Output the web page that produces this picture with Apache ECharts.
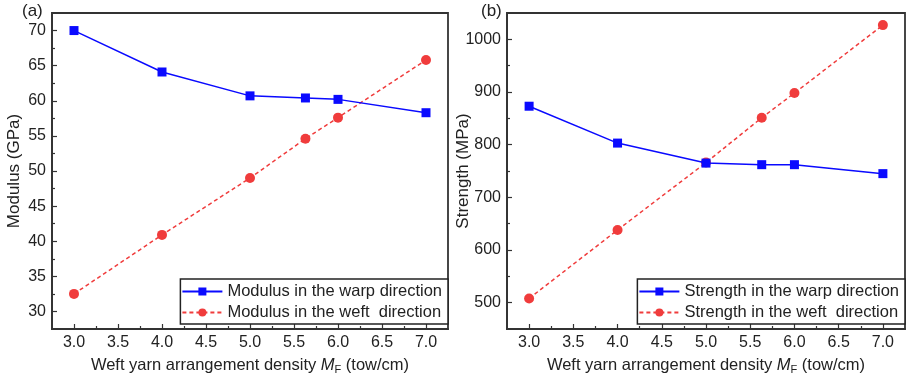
<!DOCTYPE html>
<html>
<head>
<meta charset="utf-8">
<script src="https://cdn.jsdelivr.net/npm/echarts@6/dist/echarts.min.js"></script>
<style>
html,body{margin:0;padding:0;background:#fff;}
#c{width:906px;height:380px;}
</style>
</head>
<body>
<div id="c"></div>
<script>
// ---- data ----
const xValues = [3.0, 4.0, 5.0, 5.63, 6.0, 7.0];
const modulusWarp = [70.0, 64.1, 60.7, 60.4, 60.2, 58.3];
const modulusWeft = [32.5, 40.9, 49.0, 54.6, 57.6, 65.8];
const strengthWarp = [873, 803, 765, 762, 762, 745];
const strengthWeft = [508, 638, 766, 851, 898, 1027];
const xTickLabels = [3.0, 3.5, 4.0, 4.5, 5.0, 5.5, 6.0, 6.5, 7.0];
const xMinorTicks = [3.25, 3.75, 4.25, 4.75, 5.25, 5.75, 6.25, 6.75];
const modulusTicks = [30, 35, 40, 45, 50, 55, 60, 65, 70];
const modulusMinor = [32.5, 37.5, 42.5, 47.5, 52.5, 57.5, 62.5, 67.5];
const strengthTicks = [500, 600, 700, 800, 900, 1000];
const strengthMinor = [550, 650, 750, 850, 950];
const legendNames = ['Modulus in the warp direction', 'Modulus in the weft  direction',
                     'Strength in the warp direction', 'Strength in the weft  direction'];

const FONT = "'Liberation Sans', Arial, sans-serif";
const AX = '#333';
const BLUE = '#0a0aff';
const RED = '#f03c3c';

function pairs(xs, ys){ return xs.map((x,i)=>[x, ys[i]]); }

const grids = [
  {left: 52, right: 458, top: 13, bottom: 47},
  {left: 507, right: 1, top: 13, bottom: 47}
];

function mainX(gi){
  return {
    type:'value', gridIndex: gi, min: 2.75, max: 7.25,
    name: '{n|Weft yarn arrangement density }{i|M}{s|F}{n| (tow/cm)}',
    nameLocation:'middle', nameGap: 26, nameMoveOverlap:false,
    nameTextStyle:{ rich:{
      n:{fontFamily:FONT, fontSize:16.5, color:'#222'},
      i:{fontFamily:FONT, fontSize:16.5, color:'#222', fontStyle:'italic'},
      s:{fontFamily:FONT, fontSize:11, color:'#222', padding:[9,0,0,0]}
    }},
    axisLine:{show:true, onZero:false, lineStyle:{color:AX, width:1.8}},
    axisTick:{show:true, inside:true, length:5, customValues: xTickLabels, lineStyle:{color:AX, width:1.2}},
    axisLabel:{show:true, customValues: xTickLabels, margin:6, fontFamily:FONT, fontSize:16, color:'#222',
      formatter:(v)=>v.toFixed(1)},
    splitLine:{show:false}
  };
}
function minorX(gi){
  return {
    type:'value', gridIndex: gi, min: 2.75, max: 7.25, position:'bottom',
    axisLine:{show:false},
    axisTick:{show:true, inside:true, length:3, customValues: xMinorTicks, lineStyle:{color:AX, width:1.2}},
    axisLabel:{show:false}, splitLine:{show:false}
  };
}
function mainY(gi, min, max, ticks, name, margin, gap){
  return {
    type:'value', gridIndex: gi, min, max, name,
    nameLocation:'middle', nameGap: gap, nameMoveOverlap:false,
    nameTextStyle:{fontFamily:FONT, fontSize:17, color:'#222'},
    axisLine:{show:true, onZero:false, lineStyle:{color:AX, width:1.8}},
    axisTick:{show:true, inside:true, length:5, customValues: ticks, lineStyle:{color:AX, width:1.2}},
    axisLabel:{show:true, customValues: ticks, margin, fontFamily:FONT, fontSize:16, color:'#222',
      formatter:(v)=>String(v)},
    splitLine:{show:false}
  };
}
function minorY(gi, min, max, ticks){
  return {
    type:'value', gridIndex: gi, min, max, position:'left',
    axisLine:{show:false},
    axisTick:{show:true, inside:true, length:3, customValues: ticks, lineStyle:{color:AX, width:1.2}},
    axisLabel:{show:false}, splitLine:{show:false}
  };
}

function warpSeries(name, xi, yi, data){
  return {type:'line', name, xAxisIndex:xi, yAxisIndex:yi, data,
    symbol:'rect', symbolSize:9, showSymbol:true,
    itemStyle:{color:BLUE}, lineStyle:{color:BLUE, width:1.5}, z:3};
}
function weftSeries(name, xi, yi, data){
  return {type:'line', name, xAxisIndex:xi, yAxisIndex:yi, data,
    symbol:'circle', symbolSize:10, showSymbol:true,
    itemStyle:{color:RED}, lineStyle:{color:RED, width:1.5, type:[4,3]}, z:2};
}

const legendCommon = {
  orient:'vertical', top: 279, backgroundColor:'#fff',
  borderColor:'#222', borderWidth:1.5, borderRadius:0,
  padding:[4,6,3,1], itemGap:4, itemWidth:40, itemHeight:10,
  textStyle:{fontFamily:FONT, fontSize:16.5, color:'#222', padding:[0,0,0,0]}
};

const option = {
  animation:false,
  backgroundColor:'#fff',
  grid: grids.map(g=>Object.assign({show:true, borderColor:AX, borderWidth:1.8, backgroundColor:'transparent'}, g)),
  xAxis:[mainX(0), minorX(0), mainX(1), minorX(1)],
  yAxis:[
    mainY(0, 27.5, 72.5, modulusTicks, 'Modulus (GPa)', 6, 29),
    minorY(0, 27.5, 72.5, modulusMinor),
    mainY(1, 450, 1050, strengthTicks, 'Strength (MPa)', 6, 35),
    minorY(1, 450, 1050, strengthMinor)
  ],
  legend:[
    Object.assign({data:[legendNames[0], legendNames[1]], right: 458}, legendCommon),
    Object.assign({data:[legendNames[2], legendNames[3]], right: 1}, legendCommon)
  ],
  graphic:[
    {type:'text', left:22, top:3, style:{text:'(a)', fontFamily:FONT, fontSize:17, fill:'#222'}},
    {type:'text', left:481, top:3, style:{text:'(b)', fontFamily:FONT, fontSize:17, fill:'#222'}}
  ],
  series:[
    warpSeries(legendNames[0], 0, 0, pairs(xValues, modulusWarp)),
    weftSeries(legendNames[1], 0, 0, pairs(xValues, modulusWeft)),
    warpSeries(legendNames[2], 2, 2, pairs(xValues, strengthWarp)),
    weftSeries(legendNames[3], 2, 2, pairs(xValues, strengthWeft))
  ]
};
const chart = echarts.init(document.getElementById('c'), null, {renderer:'canvas'});
chart.setOption(option);
</script>
</body>
</html>
